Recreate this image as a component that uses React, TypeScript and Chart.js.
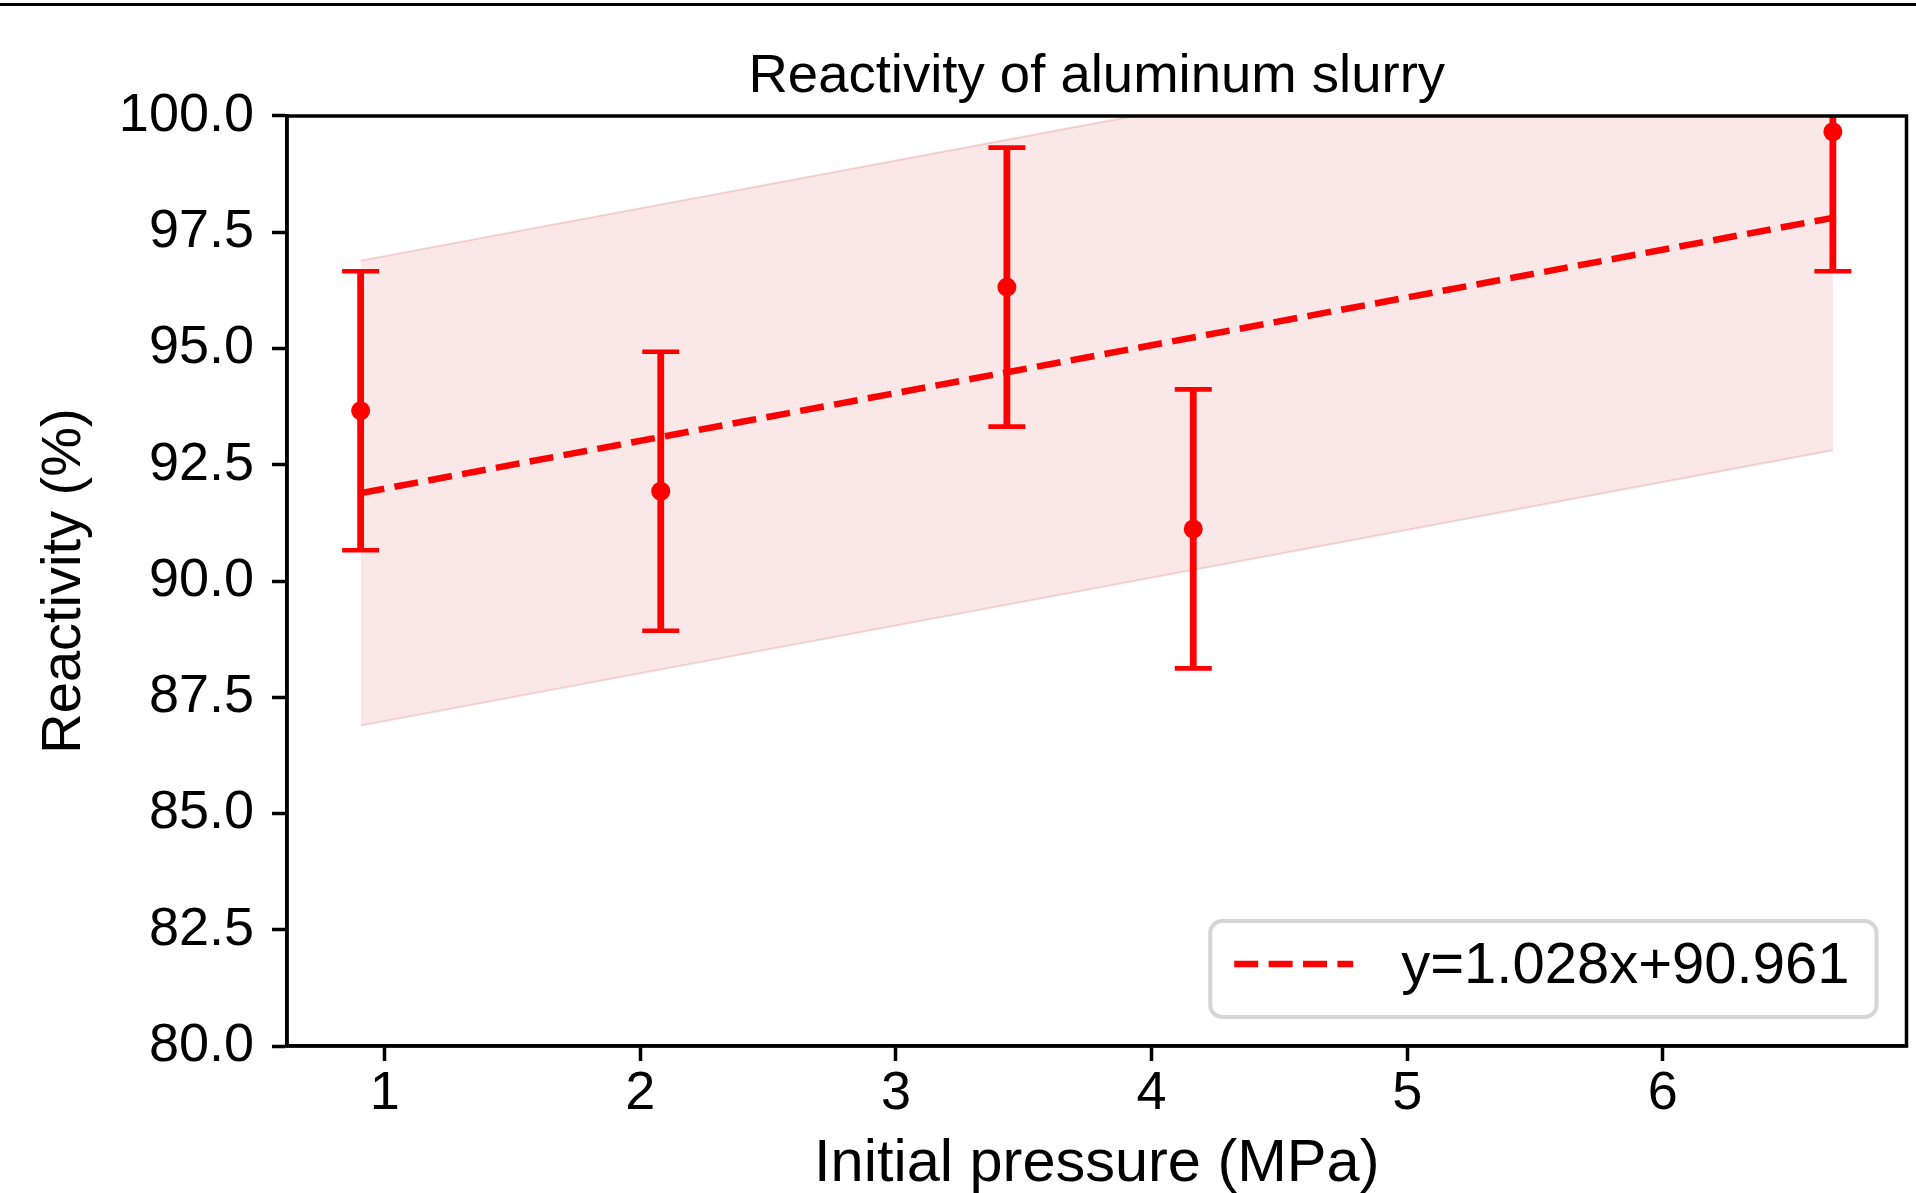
import React, { useEffect, useRef } from "react";
import Chart from "chart.js/auto";

const FONT = "'Liberation Sans', Arial, Helvetica, sans-serif";

// Data
const pressure = [0.906, 2.08, 3.434, 4.163, 6.665];
const reactivity = [93.66, 91.93, 96.32, 91.12, 99.66];
const reactivityErr = [3.0, 3.0, 3.0, 3.0, 3.0];
const fitX = [0.906, 6.665];
const fitY = [91.89, 97.81];
const bandUpper = [96.89, 102.81];
const bandLower = [86.89, 92.81];
const xTicks = [1, 2, 3, 4, 5, 6];
const yTicks = [80, 82.5, 85, 87.5, 90, 92.5, 95, 97.5, 100];
const xRange = [0.618, 6.953];
const yRange = [80, 100];
const fitLabel = "y=1.028x+90.961";
const chartTitle = "Reactivity of aluminum slurry";
const xTitle = "Initial pressure (MPa)";
const yTitle = "Reactivity (%)";

const RED = "#ff0000";

const errorBarPlugin = {
  id: "errorBars",
  beforeDatasetDraw(chart: any, args: any) {
    if (args.index !== 3) return;
    const xs = chart.scales.x;
    const ys = chart.scales.y;
    const ctx = chart.ctx;
    const a = chart.chartArea;
    ctx.save();
    ctx.beginPath();
    ctx.rect(a.left, a.top, a.right - a.left, a.bottom - a.top);
    ctx.clip();
    ctx.strokeStyle = RED;
    ctx.lineCap = "butt";
    pressure.forEach((p, i) => {
      const x = xs.getPixelForValue(p);
      const yT = ys.getPixelForValue(reactivity[i] + reactivityErr[i]);
      const yB = ys.getPixelForValue(reactivity[i] - reactivityErr[i]);
      ctx.lineWidth = 6.8;
      ctx.beginPath();
      ctx.moveTo(x, yT);
      ctx.lineTo(x, yB);
      ctx.stroke();
      ctx.lineWidth = 4.6;
      ctx.beginPath();
      ctx.moveTo(x - 18.5, yT);
      ctx.lineTo(x + 18.5, yT);
      ctx.moveTo(x - 18.5, yB);
      ctx.lineTo(x + 18.5, yB);
      ctx.stroke();
    });
    ctx.restore();
  },
};

const framePlugin = {
  id: "frame",
  afterDatasetsDraw(chart: any) {
    const ctx = chart.ctx;
    const a = chart.chartArea;
    ctx.save();
    ctx.strokeStyle = "#000";
    ctx.lineWidth = 3.5;
    ctx.strokeRect(a.left, a.top, a.right - a.left, a.bottom - a.top);
    ctx.restore();
  },
};

const legendPlugin = {
  id: "fitLegend",
  afterDraw(chart: any) {
    const ds = chart.data.datasets[2];
    const ctx = chart.ctx;
    const a = chart.chartArea;
    ctx.save();
    ctx.font = `58px ${FONT}`;
    const tw = ctx.measureText(ds.label).width;
    const padL = 24, handle = 119, gap = 48, padR = 27, h = 96;
    const w = padL + handle + gap + tw + padR;
    const right = a.right - 30;
    const bottom = a.bottom - 29;
    const left = right - w;
    const top = bottom - h;
    ctx.beginPath();
    ctx.roundRect(left, top, w, h, 12);
    ctx.fillStyle = "rgba(255,255,255,0.85)";
    ctx.fill();
    ctx.strokeStyle = "#d6d6d6";
    ctx.lineWidth = 4;
    ctx.stroke();
    const cy = top + h / 2 - 5;
    ctx.strokeStyle = ds.borderColor;
    ctx.lineWidth = ds.borderWidth;
    ctx.setLineDash(ds.borderDash);
    ctx.beginPath();
    ctx.moveTo(left + padL, cy);
    ctx.lineTo(left + padL + handle, cy);
    ctx.stroke();
    ctx.setLineDash([]);
    ctx.fillStyle = "#000";
    ctx.textBaseline = "middle";
    ctx.textAlign = "left";
    ctx.fillText(ds.label, left + padL + handle + gap, cy + 3);
    ctx.restore();
  },
};

export default function App() {
  const canvasRef = useRef<HTMLCanvasElement | null>(null);

  useEffect(() => {
    if (!canvasRef.current) return;
    const chart = new Chart(canvasRef.current, {
      type: "line",
      data: {
        datasets: [
          {
            label: "band upper",
            data: fitX.map((x, i) => ({ x, y: bandUpper[i] })),
            borderColor: "rgba(214,39,40,0.18)",
            borderWidth: 2,
            backgroundColor: "rgba(214,39,40,0.11)",
            fill: "+1",
            pointRadius: 0,
            tension: 0,
            order: 3,
            clip: 0,
          },
          {
            label: "band lower",
            data: fitX.map((x, i) => ({ x, y: bandLower[i] })),
            borderColor: "rgba(214,39,40,0.18)",
            borderWidth: 2,
            backgroundColor: "rgba(214,39,40,0.11)",
            fill: false,
            pointRadius: 0,
            tension: 0,
            order: 2,
            clip: 0,
          },
          {
            label: fitLabel,
            data: fitX.map((x, i) => ({ x, y: fitY[i] })),
            borderColor: RED,
            borderWidth: 6.5,
            borderDash: [24, 10.4],
            fill: false,
            pointRadius: 0,
            tension: 0,
            order: 1,
            clip: 0,
          },
          {
            label: "data",
            type: "scatter",
            data: pressure.map((x, i) => ({ x, y: reactivity[i] })),
            showLine: false,
            pointRadius: 9.5,
            pointBackgroundColor: RED,
            pointBorderColor: RED,
            pointBorderWidth: 0,
            backgroundColor: RED,
            borderColor: RED,
            order: 0,
          } as any,
        ],
      },
      options: {
        animation: false,
        responsive: false,
        devicePixelRatio: 1,
        layout: { padding: { left: 0, right: 8, top: 44, bottom: 0 } },
        plugins: {
          legend: { display: false },
          tooltip: { enabled: false },
          title: {
            display: true,
            text: chartTitle,
            color: "#000",
            fullSize: false,
            font: { family: FONT, size: 54.5, weight: "normal", lineHeight: 1.2 },
            padding: { top: 0, bottom: 6.6 },
          },
        },
        scales: {
          x: {
            type: "linear",
            min: xRange[0],
            max: xRange[1],
            afterBuildTicks: (s: any) => {
              s.ticks = xTicks.map((v) => ({ value: v }));
            },
            afterFit: (s: any) => {
              s.height = 147;
            },
            grid: {
              drawOnChartArea: false,
              drawTicks: true,
              tickLength: 15,
              tickWidth: 3.5,
              tickColor: "#000",
            },
            border: { display: true, color: "#000", width: 3.5 },
            ticks: {
              color: "#000",
              padding: 1,
              maxRotation: 0,
              autoSkip: false,
              font: { family: FONT, size: 54 },
              callback: (v: any) => String(v),
            },
            title: {
              display: true,
              text: xTitle,
              color: "#000",
              font: { family: FONT, size: 59.5, lineHeight: 0.95 },
              padding: { top: 0, bottom: 0 },
            },
          },
          y: {
            type: "linear",
            min: yRange[0],
            max: yRange[1],
            afterBuildTicks: (s: any) => {
              s.ticks = yTicks.map((v) => ({ value: v }));
            },
            afterFit: (s: any) => {
              s.width = 287;
            },
            grid: {
              drawOnChartArea: false,
              drawTicks: true,
              tickLength: 15,
              tickWidth: 3.5,
              tickColor: "#000",
            },
            border: { display: true, color: "#000", width: 3.5 },
            ticks: {
              color: "#000",
              padding: 18,
              autoSkip: false,
              font: { family: FONT, size: 54 },
              callback: (v: any) => Number(v).toFixed(1),
            },
            title: {
              display: true,
              text: yTitle,
              color: "#000",
              font: { family: FONT, size: 56, lineHeight: 1.2 },
              padding: { top: 31, bottom: 0 },
            },
          },
        },
      } as any,
      plugins: [errorBarPlugin, framePlugin, legendPlugin],
    });
    return () => chart.destroy();
  }, []);

  return (
    <div
      style={{
        position: "fixed",
        left: 0,
        top: 0,
        width: 1916,
        height: 1193,
        background: "#fff",
        overflow: "hidden",
      }}
    >
      <div
        style={{
          position: "absolute",
          left: 0,
          top: 3,
          width: 1916,
          height: 3,
          background: "#000",
        }}
      />
      <canvas
        ref={canvasRef}
        width={1916}
        height={1193}
        style={{ position: "absolute", left: 0, top: 0, width: 1916, height: 1193 }}
      />
    </div>
  );
}
